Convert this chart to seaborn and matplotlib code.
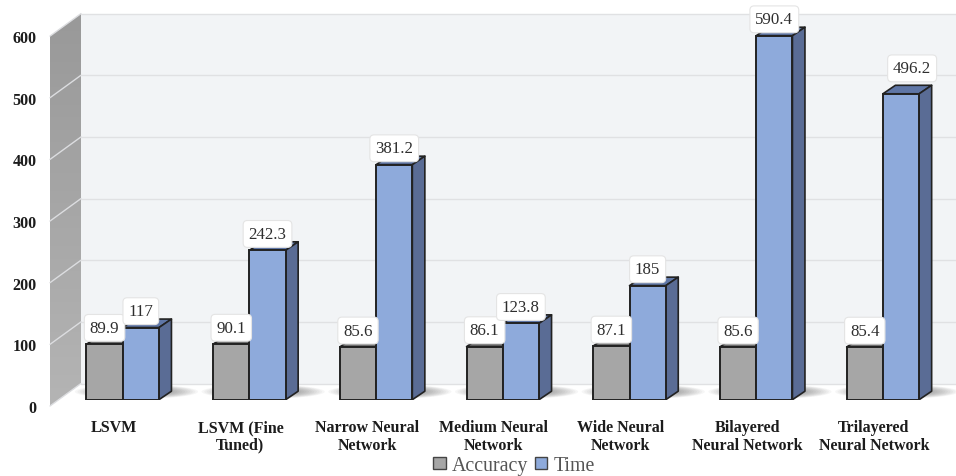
import numpy as np
import pandas as pd
import matplotlib
matplotlib.use("Agg")
import matplotlib.pyplot as plt
from matplotlib.colors import LinearSegmentedColormap
from matplotlib.patches import Ellipse, Polygon
from matplotlib.transforms import ScaledTranslation
import seaborn as sns

# Data
models = ["LSVM", "LSVM (Fine\nTuned)", "Narrow Neural\nNetwork", "Medium Neural\nNetwork",
          "Wide Neural\nNetwork", "Bilayered\nNeural Network", "Trilayered\nNeural Network"]
accuracy = [89.9, 90.1, 85.6, 86.1, 87.1, 85.6, 85.4]
train_time = [117, 242.3, 381.2, 123.8, 185, 590.4, 496.2]
y_ticks = [0, 100, 200, 300, 400, 500, 600]

# Layout, in output pixels
W, H = 956, 477
PX_PER_UNIT = 0.6165
FRONT_BASE = 400.7     # y of value 0 on the front plane of the bars
WALL_BASE = 407.0      # y of value 0 on the front edge of the side wall
WALL_LEFT, WALL_DX, WALL_DY = 50, 31, 22.5
BAR_DX, BAR_DY = 12.5, 8.5
GROUP_STEP, GROUP_START = 126.7, 122.7

sns.set_theme(style="white")
plt.rcParams["font.family"] = ["Liberation Serif", "DejaVu Serif"]

frame = pd.DataFrame({
    "Model": models * 2,
    "Metric": ["Accuracy"] * len(models) + ["Time"] * len(models),
    "Value": accuracy + train_time,
})

fig = plt.figure(figsize=(W / 100, H / 100), dpi=100, facecolor="white")

# Room axes: x in pixels, y in chart units, holding the wall, grid and y labels
wall_left_ax = 42
room = fig.add_axes([wall_left_ax / W, 0, 1 - wall_left_ax / W, 1])
room.set_xlim(wall_left_ax, W)
room.set_ylim((WALL_BASE - H) / PX_PER_UNIT, WALL_BASE / PX_PER_UNIT)
depth_units = WALL_DY / PX_PER_UNIT
x_front, x_back = WALL_LEFT, WALL_LEFT + WALL_DX
top_v = y_ticks[-1]

room.add_patch(Polygon([(x_back, depth_units), (W, depth_units),
                        (W, top_v + depth_units), (x_back, top_v + depth_units)],
                       fc="#f2f4f6", ec="none", zorder=1))
side = Polygon([(x_front, 0), (x_back, depth_units), (x_back, top_v + depth_units), (x_front, top_v)],
               fc="none", ec="none", zorder=1, transform=room.transData)
room.add_patch(side)
wall_cmap = LinearSegmentedColormap.from_list("wall", ["#999999", "#b4b4b4"])
shade = room.imshow(np.linspace(0, 1, 64)[:, None], cmap=wall_cmap, aspect="auto", zorder=1,
                    extent=(x_front, x_back, 0, top_v + depth_units), origin="upper")
shade.set_clip_path(side)
room.set_xlim(wall_left_ax, W)
room.set_ylim((WALL_BASE - H) / PX_PER_UNIT, WALL_BASE / PX_PER_UNIT)

for v in y_ticks:
    room.plot([x_front, x_back], [v, v + depth_units], color="#dcdde0", lw=1.0, zorder=2)
    room.plot([x_back, W], [v + depth_units] * 2, color="#e0e1e3", lw=1.0, zorder=2)

room.set_yticks(y_ticks)
room.set_xticks([])
room.tick_params(axis="y", length=0, pad=4.0)
for lab in room.get_yticklabels():
    lab.set_fontsize(11.6)
    lab.set_fontweight("bold")
    lab.set_color("#1c1c1c")
sns.despine(ax=room, left=True, bottom=True)

# Bars axes: categorical x, value 0 on the bottom edge
bars = fig.add_axes([0, 1 - FRONT_BASE / H, 1, FRONT_BASE / H])
bars.patch.set_alpha(0)
sns.barplot(data=frame, x="Model", y="Value", hue="Metric", ax=bars,
            palette={"Accuracy": "#a6a6a6", "Time": "#8eaadb"},
            width=72.5 / GROUP_STEP, gap=0, saturation=1, errorbar=None,
            edgecolor="#222222", linewidth=1.4, zorder=3)
bars.set_xlim(-GROUP_START / GROUP_STEP, (W - GROUP_START) / GROUP_STEP)
bars.set_ylim(0, FRONT_BASE / PX_PER_UNIT)
bars.set_xlabel("")
bars.set_ylabel("")
bars.set_yticks([])
sns.despine(ax=bars, left=True, bottom=True)

dx = BAR_DX / GROUP_STEP
dy = BAR_DY / PX_PER_UNIT
face_styles = [("#6d6d6d", "#6d6d6d"), ("#5f76a6", "#5a6c95")]
label_shift = {496.2: (8, 6.5)}

# Soft floor shadow, one per group, spread around the pair of bar feet
group_spans = [(a.get_x(), b.get_x() + b.get_width())
               for a, b in zip(bars.containers[0], bars.containers[1])]
for x0, x1 in group_spans:
    centre = (x0 + x1) / 2 + dx * 1.1
    span = (x1 - x0) + 0.40
    for k in np.linspace(1, 0.45, 14):
        bars.add_patch(Ellipse((centre, 13), span * k, 23 * k,
                               fc="#3a3a3a", ec="none", alpha=0.045, zorder=1.5))

for container, (top_c, side_c) in zip(bars.containers, face_styles):
    for rect in container:
        x0, w, h = rect.get_x(), rect.get_width(), rect.get_height()
        x1 = x0 + w
        bars.add_patch(Polygon([(x0, h), (x1, h), (x1 + dx, h + dy), (x0 + dx, h + dy)],
                               fc=top_c, ec="#222222", lw=1.2, zorder=2.6, joinstyle="round"))
        bars.add_patch(Polygon([(x1, 0), (x1 + dx, dy), (x1 + dx, h + dy), (x1, h)],
                               fc=side_c, ec="#222222", lw=1.2, zorder=2.6, joinstyle="round"))
        sx, sy = label_shift.get(h, (0, 0))
        bars.annotate(f"{h:g}", (x0 + w / 2, h), xytext=(sx, 11.8 + sy), textcoords="offset points",
                      ha="center", va="center", fontsize=12.2, color="#2e2e2e", zorder=6,
                      bbox=dict(boxstyle="round,pad=0.32,rounding_size=0.25",
                                fc="white", ec="#e4e4e4", lw=0.8))

# Category labels, nudged to sit under the floor rather than the bar fronts
bars.tick_params(axis="x", length=0, pad=14)
nudge = ScaledTranslation(-9 / 100, 0, fig.dpi_scale_trans)
for lab in bars.get_xticklabels():
    lab.set_fontsize(11.5)
    lab.set_fontweight("bold")
    lab.set_color("#1c1c1c")
    lab.set_linespacing(1.12)
    lab.set_transform(lab.get_transform() + nudge)

handles, labels = bars.get_legend_handles_labels()
bars.get_legend().remove()
for handle in handles:
    handle.set_edgecolor("#444444")
    handle.set_linewidth(1.0)
fig.legend(handles, labels, ncol=2, frameon=False, loc="center",
           bbox_to_anchor=(514 / W, 1 - 466.5 / H), fontsize=14.3, labelcolor="#555555",
           handlelength=0.62, handleheight=0.62, handletextpad=0.3, columnspacing=0.35,
           borderpad=0, borderaxespad=0)

fig.savefig("out.png", dpi=100, facecolor="white")
